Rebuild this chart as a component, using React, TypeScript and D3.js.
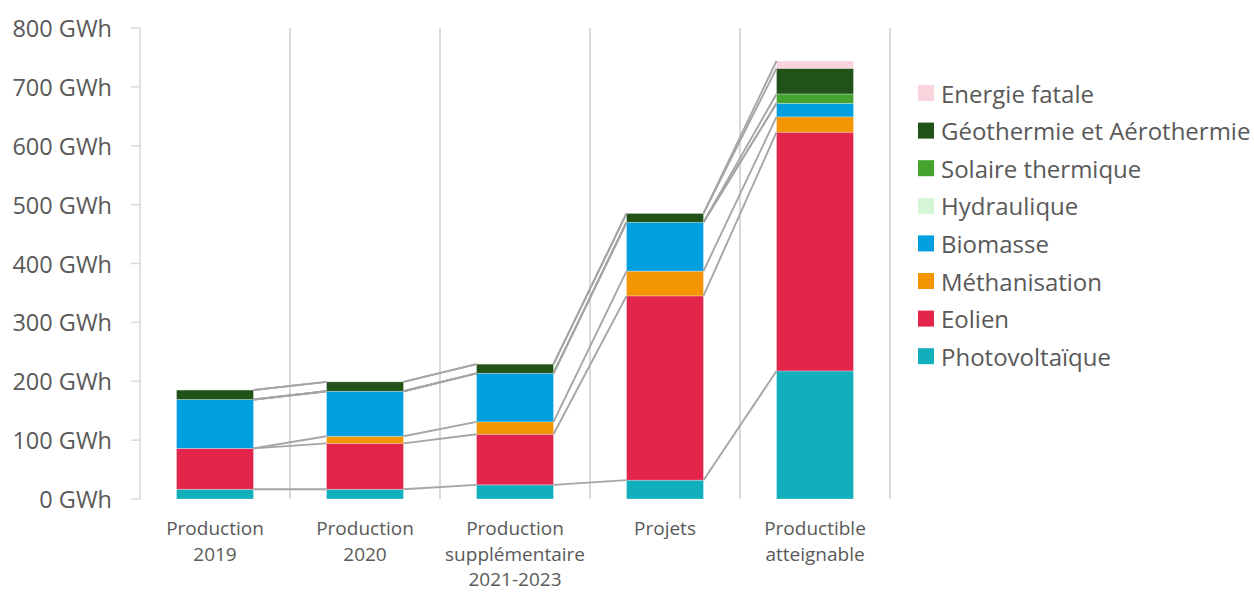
import React from "react";
import * as d3 from "d3";

const categories = [
  ["Production", "2019"],
  ["Production", "2020"],
  ["Production", "supplémentaire", "2021-2023"],
  ["Projets"],
  ["Productible", "atteignable"],
];

const photovoltaique = [16.5, 16.5, 24, 32, 217.5];
const eolien = [69.5, 78, 86, 313, 405.5];
const methanisation = [0, 12, 21, 42, 26];
const biomasse = [83, 76.5, 82.5, 83, 23];
const hydraulique = [0, 0, 0, 0, 0];
const solaireThermique = [0, 0, 0, 0, 16];
const geothermie = [16, 16, 15.5, 15, 43.5];
const energieFatale = [0, 0, 0, 0, 12.5];

const seriesNames = [
  "Photovoltaïque",
  "Eolien",
  "Méthanisation",
  "Biomasse",
  "Hydraulique",
  "Solaire thermique",
  "Géothermie et Aérothermie",
  "Energie fatale",
];
const seriesValues = [
  photovoltaique,
  eolien,
  methanisation,
  biomasse,
  hydraulique,
  solaireThermique,
  geothermie,
  energieFatale,
];
const seriesColors = [
  "#11AFBC",
  "#E4254B",
  "#F29500",
  "#009FE0",
  "#D5F5D5",
  "#44A42F",
  "#215217",
  "#FAD4DC",
];

const yTicks = [0, 100, 200, 300, 400, 500, 600, 700, 800];

const W = 1254;
const H = 592;
const plotLeft = 140;
const plotRight = 890;
const plotTop = 28;
const plotBottom = 499;
const textColor = "#595959";
const font = "'Open Sans', sans-serif";

export default function App() {
  const idx = categories.map((_, i) => String(i));
  const x = d3
    .scaleBand<string>()
    .domain(idx)
    .range([plotLeft, plotRight])
    .paddingInner(0.487)
    .paddingOuter(0.2435);
  const y = d3.scaleLinear().domain([0, 800]).range([plotBottom, plotTop]);

  const table = categories.map((_, i) => {
    const row: Record<string, number> = {};
    seriesNames.forEach((s, k) => (row[s] = seriesValues[k][i]));
    return row;
  });
  const stacked = d3.stack<Record<string, number>>().keys(seriesNames)(table);

  const bw = x.bandwidth();
  const step = x.step();
  const boundaries = d3.range(categories.length + 1).map((i) => plotLeft + i * step);

  return (
    <svg
      width={W}
      height={H}
      style={{ position: "absolute", left: 0, top: 0, background: "#fff" }}
      fontFamily={font}
    >
      {/* vertical gridlines */}
      {boundaries.map((bx, i) => (
        <line
          key={"g" + i}
          x1={bx}
          x2={bx}
          y1={plotTop}
          y2={plotBottom}
          stroke="#D9D9D9"
          strokeWidth={i === 0 ? 1.5 : 2}
        />
      ))}
      {/* y ticks */}
      {yTicks.map((t) => (
        <g key={"t" + t}>
          <line x1={plotLeft - 9} x2={plotLeft} y1={y(t)} y2={y(t)} stroke="#D9D9D9" strokeWidth={1.5} />
          <text
            x={112}
            y={y(t)}
            textAnchor="end"
            dominantBaseline="central"
            fontSize={23.5}
            fill={textColor}
          >
            {t} GWh
          </text>
        </g>
      ))}
      {/* bars */}
      {stacked.map((layer, k) => (
        <g key={"s" + k} fill={seriesColors[k]}>
          {layer.map((d, i) =>
            d[1] - d[0] > 0 ? (
              <rect
                key={i}
                x={x(String(i))}
                y={y(d[1])}
                width={bw}
                height={y(d[0]) - y(d[1])}
                stroke="#ffffff"
                strokeOpacity={0.35}
                strokeWidth={0.8}
              />
            ) : null
          )}
        </g>
      ))}
      {/* series lines */}
      {stacked.map((layer, k) => (
        <g key={"l" + k} stroke="#A5A5A5" strokeWidth={1.9}>
          {layer.slice(0, -1).map((d, i) => (
            <line
              key={i}
              x1={(x(String(i)) as number) + bw}
              y1={y(d[1])}
              x2={x(String(i + 1)) as number}
              y2={y(layer[i + 1][1])}
            />
          ))}
        </g>
      ))}
      {/* category labels */}
      {categories.map((lines, i) => (
        <text
          key={"c" + i}
          x={(x(String(i)) as number) + bw / 2}
          textAnchor="middle"
          fontSize={19}
          fill={textColor}
        >
          {lines.map((ln, j) => (
            <tspan key={j} x={(x(String(i)) as number) + bw / 2} y={535 + j * 25.5}>
              {ln}
            </tspan>
          ))}
        </text>
      ))}
      {/* legend */}
      {seriesNames
        .map((n, k) => ({ n, k }))
        .reverse()
        .map(({ n, k }, j) => {
          const cy = 93 + j * 37.6;
          return (
            <g key={"lg" + k}>
              <rect x={918} y={cy - 8} width={16} height={16} fill={seriesColors[k]} />
              <text x={941} y={cy} dominantBaseline="central" fontSize={24} fill={textColor}>
                {n}
              </text>
            </g>
          );
        })}
    </svg>
  );
}
